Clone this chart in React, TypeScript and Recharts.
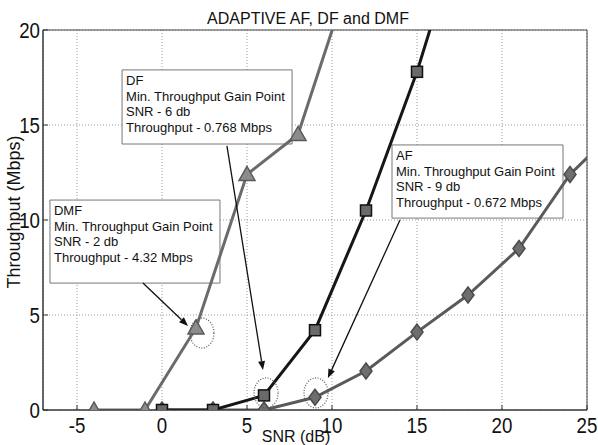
import { FC } from "react";
import {
  LineChart,
  Line,
  XAxis,
  YAxis,
  CartesianGrid,
  ReferenceArea,
  ReferenceLine,
  ReferenceDot,
} from "recharts";

// SNR (dB) and throughput (Mbps)
const dmfSnr = [-4, -1, 2, 5, 8, 11];
const dmfThroughput = [0, 0, 4.32, 12.4, 14.5, 22.7];

const dfSnr = [0, 3, 6, 9, 12, 15, 18];
const dfThroughput = [0, 0, 0.768, 4.2, 10.5, 17.8, 26.5];

const afSnr = [0, 3, 6, 9, 12, 15, 18, 21, 24, 27];
const afThroughput = [0, 0, 0, 0.672, 2.05, 4.1, 6.05, 8.5, 12.4, 15.0];

const xTicks = [-5, 0, 5, 10, 15, 20, 25];
const yTicks = [0, 5, 10, 15, 20];

const toPoints = (xs: number[], ys: number[]) => xs.map((x, i) => ({ x, y: ys[i] }));

const dmfData = toPoints(dmfSnr, dmfThroughput);
const dfData = toPoints(dfSnr, dfThroughput);
const afData = toPoints(afSnr, afThroughput);

const FONT = "'Liberation Sans', Arial, sans-serif";

// callout boxes (in axis units)
const notes = [
  { x1: -2.35, x2: 7.65, y1: 14.0, y2: 17.9, lines: ["DF", "Min. Throughput Gain Point", "SNR - 6 db", "Throughput - 0.768 Mbps"] },
  { x1: -6.59, x2: 3.41, y1: 6.68, y2: 11.05, lines: ["DMF", "Min. Throughput Gain Point", "SNR - 2 db", "Throughput - 4.32 Mbps"] },
  { x1: 13.53, x2: 23.59, y1: 10.1, y2: 13.95, lines: ["AF", "Min. Throughput Gain Point", "SNR - 9 db", "Throughput - 0.672 Mbps"] },
];

const arrows = [
  { from: { x: 3.82, y: 13.9 }, to: { x: 5.94, y: 2.1 } },
  { from: { x: -1.12, y: 6.68 }, to: { x: 1.53, y: 4.42 } },
  { from: { x: 14.0, y: 10.0 }, to: { x: 9.76, y: 1.68 } },
];

const rings = [
  { x: 2.35, y: 4.05 },
  { x: 6.12, y: 0.9 },
  { x: 9.06, y: 0.9 },
];

const NoteText = (props: any) => {
  const { viewBox, lines } = props;
  if (!viewBox) return null;
  const { x, y } = viewBox;
  return (
    <text fontSize={13} fontFamily={FONT} fill="#111">
      {lines.map((l: string, i: number) => (
        <tspan key={i} x={x + 4} y={y + 15 + i * 15.7}>
          {l}
        </tspan>
      ))}
    </text>
  );
};

const Arrow = (props: any) => {
  const { x1, y1, x2, y2 } = props;
  if (x1 == null) return null;
  const a = Math.atan2(y2 - y1, x2 - x1);
  const len = 9;
  const w = 3.5;
  const bx = x2 - len * Math.cos(a);
  const by = y2 - len * Math.sin(a);
  const px = -Math.sin(a) * w;
  const py = Math.cos(a) * w;
  return (
    <g>
      <line x1={x1} y1={y1} x2={bx} y2={by} stroke="#111" strokeWidth={1.3} />
      <polygon points={`${x2},${y2} ${bx + px},${by + py} ${bx - px},${by - py}`} fill="#111" />
    </g>
  );
};

const Ring = (props: any) => (
  <ellipse cx={props.cx} cy={props.cy} rx={12} ry={15} fill="none" stroke="#555" strokeWidth={1.2} strokeDasharray="1 1.6" />
);

const Triangle = (props: any) => {
  const { cx, cy } = props;
  if (cx == null || cy == null) return null;
  return (
    <polygon
      points={`${cx},${cy - 8} ${cx - 8},${cy + 6} ${cx + 8},${cy + 6}`}
      fill="#8c8c8c"
      stroke="#5a5a5a"
      strokeWidth={1.5}
    />
  );
};

const Square = (props: any) => {
  const { cx, cy } = props;
  if (cx == null || cy == null) return null;
  return <rect x={cx - 5.5} y={cy - 5.5} width={11} height={11} fill="#6a6a6a" stroke="#111" strokeWidth={1.5} />;
};

const Diamond = (props: any) => {
  const { cx, cy } = props;
  if (cx == null || cy == null) return null;
  return (
    <polygon
      points={`${cx},${cy - 8} ${cx + 6},${cy} ${cx},${cy + 8} ${cx - 6},${cy}`}
      fill="#6e6e6e"
      stroke="#4a4a4a"
      strokeWidth={1.5}
    />
  );
};

const XTick = (props: any) => {
  const { x, y, payload } = props;
  return (
    <g transform={`translate(${x},${y}) scale(0.85,1)`}>
      <text textAnchor="middle" dy="0.71em" fontSize={22} fontFamily={FONT} fill="#111">
        {payload.value}
      </text>
    </g>
  );
};

const YTick = (props: any) => {
  const { x, y, payload } = props;
  return (
    <g transform={`translate(${x},${y}) scale(0.85,1)`}>
      <text textAnchor="end" dy="0.355em" fontSize={22} fontFamily={FONT} fill="#111">
        {payload.value}
      </text>
    </g>
  );
};

const App: FC = () => {
  return (
    <div style={{ position: "absolute", left: 0, top: 0, background: "#fff" }}>
      <LineChart width={598} height={445} margin={{ top: 30, right: 11, left: 0, bottom: 0 }}>
        <CartesianGrid stroke="#999" strokeDasharray="1 2" />
        <XAxis
          type="number"
          dataKey="x"
          domain={[-7, 25]}
          ticks={xTicks}
          allowDataOverflow
          height={35}
          stroke="#333"
          tickSize={-5}
          tickMargin={12}
          tick={<XTick />}
        />
        <YAxis
          type="number"
          dataKey="y"
          domain={[0, 20]}
          ticks={yTicks}
          allowDataOverflow
          width={43}
          stroke="#333"
          tickSize={-5}
          tickMargin={8}
          tick={<YTick />}
        />
        <Line data={afData} dataKey="y" stroke="#5a5a5a" strokeWidth={3} dot={<Diamond />} isAnimationActive={false} />
        <Line data={dfData} dataKey="y" stroke="#161616" strokeWidth={3} dot={<Square />} isAnimationActive={false} />
        <Line data={dmfData} dataKey="y" stroke="#6b6b6b" strokeWidth={3} dot={<Triangle />} isAnimationActive={false} />
        <ReferenceArea x1={-7} x2={25} y1={0} y2={20} fill="none" stroke="#444" strokeWidth={1} ifOverflow="visible" />
        {rings.map((r, i) => (
          <ReferenceDot key={`r${i}`} x={r.x} y={r.y} shape={<Ring />} ifOverflow="visible" />
        ))}
        {notes.map((n, i) => (
          <ReferenceArea
            key={`n${i}`}
            x1={n.x1}
            x2={n.x2}
            y1={n.y1}
            y2={n.y2}
            fill="#fff"
            fillOpacity={1}
            stroke="#777"
            strokeWidth={1}
            ifOverflow="visible"
            label={<NoteText lines={n.lines} />}
          />
        ))}
        {arrows.map((a, i) => (
          <ReferenceLine key={`a${i}`} segment={[a.from, a.to]} shape={<Arrow />} ifOverflow="visible" />
        ))}
        <text x={308} y={24} textAnchor="middle" fontSize={16} fontFamily={FONT} fill="#111">
          ADAPTIVE AF, DF and DMF
        </text>
        <text x={296} y={442} textAnchor="middle" fontSize={16} fontFamily={FONT} fill="#111">
          SNR (dB)
        </text>
        <text
          x={20}
          y={212}
          textAnchor="middle"
          fontSize={18}
          fontFamily={FONT}
          fill="#111"
          transform="rotate(-90, 20, 212)"
        >
          Throughput (Mbps)
        </text>
      </LineChart>
    </div>
  );
};

export default App;
